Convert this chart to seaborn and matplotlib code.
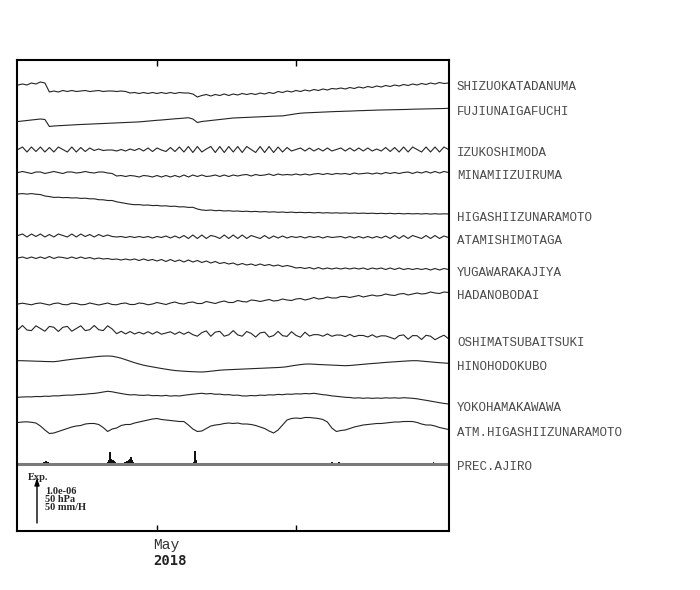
import numpy as np
import pandas as pd
import matplotlib
matplotlib.use("Agg")
import matplotlib.pyplot as plt
import matplotlib.transforms as mtransforms
import seaborn as sns

# daily samples, 2018-03-31 .. 2018-07-05
START = pd.Timestamp("2018-03-31")
DAYS = pd.date_range(START, periods=97, freq="D")

STATIONS = ["SHIZUOKATADANUMA", "FUJIUNAIGAFUCHI", "IZUKOSHIMODA", "MINAMIIZUIRUMA",
            "HIGASHIIZUNARAMOTO", "ATAMISHIMOTAGA", "YUGAWARAKAJIYA", "HADANOBODAI",
            "OSHIMATSUBAITSUKI", "HINOHODOKUBO", "YOKOHAMAKAWAWA", "ATM.HIGASHIIZUNARAMOTO"]

# relative levels (plot units, 45 units = 1.0e-06 / 50 hPa)
SHIZUOKATADANUMA = [0, 1, 0, 2, 1, 3, 2, -7, -6, -7, -5.5, -6.5, -5.5, -6.5, -6, -5.5, -6.5, -6, -5.5, -6.5,
                    -6, -6, -6.5, -6, -6.5, -8, -7.5, -8.5, -7.5, -8.5, -7.5, -8.5, -7.5, -8.5, -7.5, -8.5,
                    -7.5, -8, -8, -9, -12, -10.5, -9.5, -11, -9.5, -10.5, -9, -10.5, -9, -10,
                    -8.5, -9.5, -8.5, -9.5, -8, -9, -7.5, -8.5, -6.5, -7.5, -6, -7, -5.5, -6.5, -5, -6,
                    -4.5, -5.5, -4, -5, -3.5, -4, -3, -4, -2.5, -3.5, -2, -3, -1.5, -2.5,
                    -1, -2, -0.5, -1.5, 0, -1, 0.5, -0.5, 1, 0, 1.5, 0.5, 2, 1, 2.5, 1.5, 2]
FUJIUNAIGAFUCHI = [0, 0.5, 1, 1.5, 2, 2.5, 2, -5, -4.5, -4.2, -4, -3.7, -3.5, -3.2, -3, -2.8, -2.6, -2.4,
                   -2.2, -2, -1.8, -1.6, -1.4, -1.2, -1, -0.8, -0.6, -0.4, 0, 0.4, 0.8, 1.2, 1.5, 1.9,
                   2.3, 2.7, 3, 3.4, 3.8, 2.5, -1, 0, 0.5, 1, 1.5, 2, 2.5, 3, 3.5, 3.7, 3.9, 4.1, 4.3,
                   4.5, 4.7, 4.9, 5.1, 5.3, 5.5, 5.6, 6.3, 7, 7.7, 8.3, 8.6, 8.8, 9, 9.2, 9.4, 9.6,
                   9.8, 10, 10.1, 10.3, 10.4, 10.6, 10.8, 10.9, 11.1, 11.2, 11.4, 11.5, 11.6, 11.7,
                   11.8, 11.9, 12, 12.1, 12.3, 12.4, 12.5, 12.6, 12.7, 12.8, 12.9, 13, 13.2]
IZUKOSHIMODA = [0, 2.5, -2.5, 2.5, -2, 2.5, -2.5, 2, -2.5, 2.5,
                0, -2.5, 2.5, -2.5, 2, -2, 1.5, -1, 0.5, -1,
                -0.5, -0.5, -1.5, 0, -1.5, 0.5, -1, 1, -1.5, 1.5,
                -2, 1.5, -0.5, -2, 2, -2, 2.5, -2.5, 3, -3,
                3, -2.5, 0.5, 3, -3, 3, -3, 3, -2.5, 3,
                -3, 3, 0, -3, 3, -3, 3, -3, 2.5, -2.5,
                2, -1.5, 0, 1.5, -1.5, 1.5, -1.5, 1, -1.5, 1.5,
                -1.5, 0, 1.5, -1.5, 1.5, -1.5, 1.5, -1.5, 1.5, -1.5,
                0.5, -1.5, 2, -2, 2, -2.5, 2.5, -2.5, 2.5, 0,
                -2.5, 2.5, -2.5, 2.5, -2.5, 2.5, 0]
MINAMIIZUIRUMA = [0, 1, 0, -1, 0.5, 0.5, -1, 0, 1, 0,
                  -1, 0.5, 0.5, -0.5, 0, 1, 0, -0.5, 0.5, 0.5,
                  -0.5, -1, -3.5, -3, -4, -3, -3.5, -4.5, -3, -3.5,
                  -4.5, -3, -4.5, -3, -4.5, -3, -4.5, -2.5, -4.5, -2.5,
                  -4, -2.5, -4, -3.5, -2.5, -4, -2.5, -4, -2.5, -3.5,
                  -2.5, -2, -3.5, -2, -3, -2.5, -1.5, -3, -1.5, -2.5,
                  -2, -2.5, -1.5, -2.5, -1.5, -2.5, -1.5, -1, -2, -1,
                  -2, -1, -1.5, -1, -2, -0.5, -1.5, -1, -0.5, -1.5,
                  -0.5, -1.5, 0, -1, 0, -1, 0, 0.5, -1, 0.5,
                  -0.5, 1, -0.5, 1, -0.5, 1, 0]
HIGASHIIZUNARAMOTO = [0, 0.4, -0.1, 0.4, -0.2, -0.6, -2, -2.6, -3.4, -3.2,
                      -3.7, -3.5, -4, -3.8, -4.4, -4.2, -4.8, -4.8, -5.7, -5.8,
                      -6.5, -6.5, -7.8, -8.6, -9.4, -10.2, -10.7, -10.6, -11.2, -11,
                      -11.6, -11.4, -12, -11.8, -12.4, -12.2, -12.9, -12.8, -13.4, -13.3,
                      -15, -16, -16.4, -16, -16.7, -16.4, -17, -16.7, -17.2, -17,
                      -17.5, -17.2, -17.7, -17.4, -17.9, -17.6, -18.1, -17.8, -18.3, -18,
                      -18.5, -18.1, -18.6, -18.3, -18.7, -18.4, -18.9, -18.5, -19, -18.7,
                      -19.1, -18.8, -19.2, -18.9, -19.3, -19, -19.4, -19.1, -19.5, -19.2,
                      -19.6, -19.3, -19.7, -19.3, -19.8, -19.4, -19.9, -19.5, -19.9, -19.6,
                      -20, -19.6, -20.1, -19.7, -20.1, -19.8, -20]
ATAMISHIMOTAGA = [0, 1.5, -1.5, 1.5, -1, 1.5, -1.5, 1, -1.5, 1.5,
                  0, -1.5, 1.5, -1.5, 1.5, -1, 1, -1.5, 1, -1,
                  0.5, -1, -1.5, -1, -2, -1, -2, -1, -2, -1,
                  -2.5, -1, -2, -0.5, -2.5, -0.5, -2.5, 0, -3, 0.5,
                  -3, 0.5, -3, 0, -1, -3, 0.5, -3, 0.5, -3,
                  0.5, -3, 0, -1.5, -3, 0, -3, -0.5, -2.5, -0.5,
                  -2.5, -1, -2, -1, -2.5, -1, -2, -1, -2.5, -1,
                  -2, -1.5, -1, -2.5, -1, -2.5, -1, -2.5, -1, -2.5,
                  -1, -2.5, -0.5, -3, 0, -3, 0, -3, 0, -1.5,
                  -3, 0, -3, 0, -3, -0.5, -2]
YUGAWARAKAJIYA = [0, 1, -0.5, 1, -0.5, 1, -0.5, 1.5, -0.5, 1,
                  0.5, -0.5, 1, -0.5, 1, -0.5, 0.5, -1, 0, -1,
                  -0.5, -1.5, -1, -2, -1, -2, -1, -2.5, -1, -2.5,
                  -1.5, -3, -1.5, -3.5, -1.5, -3.5, -2, -4, -2, -4,
                  -2.5, -4.5, -3, -5, -3.5, -5.5, -4.5, -6, -5, -7,
                  -5.5, -7, -6, -7.5, -6, -7.5, -6.5, -8, -7, -8.5,
                  -7.5, -8.5, -10, -9.5, -10.5, -9.5, -11, -9.5, -11, -10,
                  -11, -10, -11, -10, -11, -10, -11, -10, -11.5, -10,
                  -11, -10, -11.5, -10, -11.5, -10, -11.5, -10.5, -11.5, -10.5,
                  -11.5, -10.5, -12, -10.5, -12, -10.5, -11.5]
HADANOBODAI = [0, 0.8, 0, -0.8, 0.5, 1, 0, -1, 0.5, 1,
               -0.5, -0.8, 0.8, 0.5, -0.8, -0.5, 1, 0, -1, 0,
               1, -0.5, -0.8, 0.5, 1, -0.5, -0.5, 1, 0.5, -0.8,
               0, 1.5, 0.5, -0.5, 1, 2, 0.5, 0, 1.5, 2,
               0.5, 0.5, 2.5, 1.5, 0.5, 2, 3, 1.5, 1.5, 3.5,
               2.5, 2, 4, 3.5, 2.5, 3.5, 4.5, 3, 3.5, 5,
               4, 3.5, 5, 5.5, 4, 5, 6.5, 5, 5.5, 7,
               6, 6, 7.5, 7.5, 6.5, 7.5, 8.5, 7, 8, 9,
               8, 8.5, 10, 9, 8.5, 10, 10.5, 9, 10, 11,
               10, 10.5, 12, 11, 10.5, 12, 11.5]
OSHIMATSUBAITSUKI = [-0.7, 3.5, -1, -1.6, 3.2, 0.5, -2.2, 2.6, 1.7, -2.5,
                     1.7, 2.6, -2.2, 0.5, 3.2, -1.6, -0.7, 3.5, -0.7, -1.6,
                     3.2, 0, -4.7, -2.3, -4.9, -2.5, -5, -3.2, -5, -2.7,
                     -5.1, -2.7, -5.2, -4, -2.8, -5.3, -2.9, -5.3, -3, -5.7,
                     -7.2, -3.6, -1.9, -7.3, -3.1, -2.3, -7.2, -5.8, -1.6, -5.9,
                     -7.2, -2.5, -4.4, -8, -3.9, -3.1, -8, -6.6, -2.4, -6.7,
                     -7.4, -2.7, -6.4, -8.2, -3.2, -7, -5.6, -5.7, -7.2, -4.9,
                     -7.3, -6, -6.1, -7.6, -5.4, -7.7, -6.4, -6.5, -8, -5.8,
                     -8.2, -6.8, -6.9, -8.4, -10, -6.6, -5.9, -10.2, -6.6, -6.7,
                     -10.5, -6.3, -7.2, -10.7, -8.3, -6.2, -9.7]
HINOHODOKUBO = [0, 0, -0.2, -0.3, -0.5, -0.6, -0.8, -0.9, -1, -0.5,
                0.2, 0.8, 1.4, 1.9, 2.4, 2.8, 3.3, 3.8, 4.3, 4.6,
                4.7, 4.5, 3.6, 2.5, 1, -0.5, -2, -3.3, -4.5, -5.4,
                -6.2, -7, -7.8, -8.5, -9.2, -9.8, -10.2, -10.5, -10.8, -11,
                -11.2, -11.3, -11, -10.5, -10, -9.5, -9.2, -9, -8.8, -8.6,
                -8.4, -8.2, -8, -7.8, -7.6, -7.4, -7.2, -7, -6.8, -6.5,
                -6, -5.2, -4.5, -3.9, -3.4, -3.3, -3.5, -3.8, -4, -4.2,
                -4.4, -4.6, -4.8, -5, -4.8, -4.4, -4, -3.6, -3.2, -2.8,
                -2.5, -2.1, -1.7, -1.4, -1.1, -0.8, -0.5, -0.2, 0, 0,
                -0.4, -0.8, -1.2, -1.6, -2, -2.3, -2.6]
YOKOHAMAKAWAWA = [0, 0.3, 0.5, 0.4, 0.8, 0.7, 1.1, 1, 1.5, 1.4,
                  1.9, 2.2, 2.1, 2.6, 2.8, 3.1, 3.6, 3.9, 4.5, 5.3,
                  6, 5.5, 4.6, 3.8, 3, 2.4, 2.6, 2.1, 1.9, 2.3,
                  1.6, 1.8, 1.4, 1.9, 1.2, 1.6, 1.3, 2, 2.6, 3.1,
                  3.6, 4, 3.4, 3.8, 3, 3.2, 2.5, 2.7, 2, 2.2,
                  1.4, 1.3, 1.8, 1.5, 2.2, 1.9, 2.5, 2.3, 2.9, 2.6,
                  3.2, 3, 3.5, 3.3, 3.8, 3.5, 4, 3.3, 2.6, 2.2,
                  1.4, 1, 0.5, 0, -0.2, -0.8, -0.5, -1, -0.6, -1.1,
                  -0.7, -1, -0.5, -0.8, -0.5, -0.9, -0.4, -0.7, -1, -1.5,
                  -2.3, -3, -3.8, -4.6, -5.4, -6.1, -6.7]
ATM_HIGASHIIZUNARAMOTO = [0, 0.5, 0.7, 0.2, -0.5, -3.5, -7.5, -11, -10.5, -9,
                          -7.5, -6, -4.5, -3.5, -3, -1.5, -1, -1, -2, -5,
                          -9, -6.5, -5.5, -3, -2, -2, -0.5, 0.5, 1.5, 2.5,
                          3.5, 4, 3, 2.5, 2, 1.5, 1, 1, -2.5, -6.5,
                          -9, -8.5, -6, -3.5, -2.5, -2, -1, -0.5, -1, -0.5,
                          -1.5, -1.5, -2, -3, -4.5, -6, -8.5, -10.5, -7.5, -2.5,
                          2.5, 4, 4.5, 4, 5, 5, 4.5, 4, 3, 0.5,
                          -5.5, -9, -8, -7.5, -6, -4.5, -3.5, -2.5, -2, -1.5,
                          -1, -1, -0.5, 0, 0.5, 0.5, 1, 1, 1, 0,
                          -1.5, -2.5, -2.5, -3.5, -5, -6, -7]

SERIES = [SHIZUOKATADANUMA, FUJIUNAIGAFUCHI, IZUKOSHIMODA, MINAMIIZUIRUMA,
          HIGASHIIZUNARAMOTO, ATAMISHIMOTAGA, YUGAWARAKAJIYA, HADANOBODAI,
          OSHIMATSUBAITSUKI, HINOHODOKUBO, YOKOHAMAKAWAWA, ATM_HIGASHIIZUNARAMOTO]

# hourly rain at AJIRO (day since 03-31, mm/H)
PREC_DAY = [5.5, 5.8, 6.1, 6.4, 6.7, 7.0, 19.9, 20.2, 20.5, 20.7, 20.9, 21.2, 21.5, 21.8,
            23.4, 23.7, 24.0, 24.3, 24.6, 24.9, 25.2, 25.5, 25.8, 39.2, 39.4, 39.5, 39.7, 39.9,
            70.0, 70.3, 71.3, 71.6, 92.4, 92.6, 92.8]
PREC_MM = [1.5, 2.5, 3, 3.5, 2.5, 1, 2, 4, 13, 8, 6, 5, 3, 2,
           1, 2, 2.5, 3, 4, 6, 8, 5, 2, 2, 6, 14.5, 4, 1.5,
           2, 1.5, 1.5, 2, 1.5, 2, 1.5]

# stacking layout
OFFSETS = [446, 409.5, 381.5, 358.5, 337, 295.5, 273, 227, 202, 170.3, 133.7, 108.5]
PREC_BASE = 67
SCALE = 45  # plot units for 1.0e-06 / 50 hPa / 50 mm/H

sns.set_theme(style="white")
plt.rcParams['font.family'] = ['Liberation Mono', 'DejaVu Sans Mono']

fig = plt.figure(figsize=(7, 5.9), dpi=100)
ax = fig.add_axes([17 / 700, 59 / 590, 432 / 700, 471 / 590])
trans = mtransforms.blended_transform_factory(ax.transAxes, ax.transData)

line_col = "#242424"
lab_col = "#4a4a4a"
for name, vals, off in zip(STATIONS, SERIES, OFFSETS):
    y = np.asarray(vals, dtype=float) + off
    sns.lineplot(x=DAYS, y=y, ax=ax, color=line_col, linewidth=0.8)
    ax.text(1.0185, y[-1] - 3.8, name, transform=trans, ha="left", va="center",
            fontsize=9, color=lab_col, family="Liberation Mono")

# precipitation
ax.axhline(PREC_BASE, color="#7a7a7a", linewidth=2.2)
prec_t = START + pd.to_timedelta(PREC_DAY, unit="D")
ax.bar(prec_t, np.asarray(PREC_MM) * SCALE / 50, width=0.3, bottom=PREC_BASE,
       color="#111111", linewidth=0)
ax.text(1.0185, PREC_BASE - 2.5, "PREC.AJIRO", transform=trans, ha="left", va="center",
        fontsize=9, color=lab_col, family="Liberation Mono")

# scale box
ax.text(0.0255, 54, "Exp.", transform=trans, ha="left", va="center",
        fontsize=7.5, fontweight="bold", family="Liberation Serif")
ax.annotate("", xy=(0.0463, 8 + SCALE), xytext=(0.0463, 8), xycoords=trans, textcoords=trans,
            arrowprops=dict(arrowstyle="-|>,head_width=0.12,head_length=0.35",
                            color="black", lw=1, shrinkA=0, shrinkB=0))
for txt, yy in zip(["1.0e-06", "50 hPa", "50 mm/H"], [39.5, 31, 23.5]):
    ax.text(0.0648, yy, txt, transform=trans, ha="left", va="center",
            fontsize=7.5, fontweight="bold", family="Liberation Serif")

ax.set_xlim(START - pd.Timedelta(hours=5.3), START + pd.Timedelta(days=96.12))
ax.set_ylim(0, 471)
ax.set_xticks([pd.Timestamp("2018-05-01"), pd.Timestamp("2018-06-01")])
ax.set_xticklabels(["", ""])
ax.set_yticks([])
ax.set_xlabel("")
ax.set_ylabel("")
ax.tick_params(axis="x", direction="in", length=4, width=1, color="black",
               top=True, bottom=True)
for sp in ax.spines.values():
    sp.set_color("black")
    sp.set_linewidth(1.5)

ax.text(0.3148, -0.0297, "May", transform=ax.transAxes, ha="left", va="center",
        fontsize=10.5, color="#333333", family="Liberation Mono")
ax.text(0.3148, -0.0637, "2018", transform=ax.transAxes, ha="left", va="center",
        fontsize=10, fontweight="bold", color="#222222", family="DejaVu Sans Mono")

fig.savefig("out.png", dpi=100)
